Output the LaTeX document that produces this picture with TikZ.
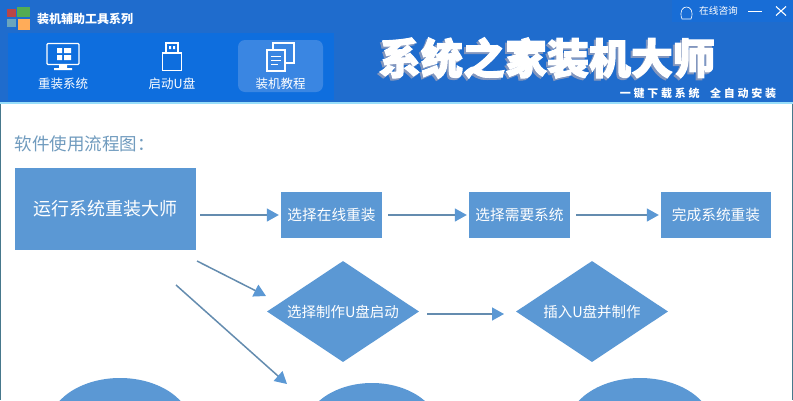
\documentclass[tikz,border=0pt]{standalone}
\usepackage{fontspec}
\setmainfont{Noto Sans CJK SC}
\newfontfamily\heavyf[BoldFeatures={FakeBold=2.5}]{Noto Sans CJK SC}
\newfontfamily\subf[LetterSpace=25]{Noto Sans CJK SC}
\usetikzlibrary{shapes.geometric,arrows.meta}
\definecolor{hdr}{RGB}{31,108,205}
\definecolor{tab}{RGB}{14,110,222}
\definecolor{tabr}{RGB}{24,109,214}
\definecolor{tabsel}{RGB}{58,134,226}
\definecolor{boxc}{RGB}{91,152,212}
\definecolor{linec}{RGB}{100,140,175}
\definecolor{ttl}{RGB}{112,155,190}
\definecolor{edge}{RGB}{70,120,140}
\definecolor{shade}{RGB}{130,150,190}
\tikzset{
 x=1pt,y=-1pt,
 flowbox/.style={fill=boxc,text=white,inner sep=0pt,font=\fontsize{14.7}{14.7}\selectfont},
 flowdia/.style={fill=boxc,text=white,diamond,aspect=1.5,inner sep=0pt,font=\fontsize{14.5}{14.5}\selectfont},
 flowarr/.style={draw=linec,line width=1.5pt,shorten >=2pt,-{Triangle[length=12pt,width=13pt,color=boxc]}},
 tablabel/.style={text=white,font=\fontsize{12.5}{12.5}\selectfont,inner sep=0pt},
 icon/.style={draw=white,line width=1.1pt},
 shadowt/.style={text=shade,font=\heavyf\fontsize{42}{42}\selectfont\bfseries,inner sep=0pt},
 titlet/.style={text=white,font=\heavyf\fontsize{42}{42}\selectfont\bfseries,inner sep=0pt},
}
\begin{document}
\begin{tikzpicture}
\useasboundingbox (0,0) rectangle (793,400);
\fill[white] (0,0) rectangle (793,400);
\fill[hdr] (0,0) rectangle (793,103);
\fill[tabr] (672,0) rectangle (793,22);
\fill[tab] (8,33) rectangle (334,100);
\fill[tabsel,rounded corners=7pt] (238,40) rectangle (323,92);
\fill[cyan!40!white] (0,102) rectangle (793,104);
\fill[edge] (0,104) rectangle (1,400);
\fill[edge] (792,104) rectangle (793,400);
% logo
\fill[red!45!gray] (7,9) rectangle (16,17);
\fill[green!35!gray] (17,7) rectangle (30,17);
\fill[cyan!45!gray] (7,19) rectangle (16,27);
\fill[orange!65!white] (18,19) rectangle (30,30);
\node[text=white,font=\fontsize{12}{12}\selectfont\bfseries,inner sep=0pt] (brand) at (85,19) {装机辅助工具系列};
% icons
\draw[icon,rounded corners=1pt] (47,43.5) rectangle (79,64.5);
\fill[white] (57,48) rectangle (62,53) (64,48) rectangle (71,53) (57,55) rectangle (62,60) (64,55) rectangle (71,60);
\fill[white] (59,65) rectangle (67,68) (54,68) rectangle (72,70);
\draw[icon] (166,43) rectangle (178,53);
\fill[white] (169,46) rectangle (171,49) (173,46) rectangle (175,49);
\draw[icon] (162.5,53) rectangle (181.5,70.5);
\draw[icon] (273,49) -- (273,43) -- (294,43) -- (294,63) -- (285,63);
\fill[tabsel] (267,50) rectangle (285,71);
\draw[icon] (267,50) rectangle (285,71);
\draw[white,line width=1pt] (271,56) -- (281,56) (271,60) -- (281,60) (271,64) -- (278,64);
\node[tablabel] (t1) at (63,84) {重装系统};
\node[tablabel] (t2) at (172,84) {启动U盘};
\node[tablabel] (t3) at (280.5,84) {装机教程};
% top right
\draw[white,line width=.6pt] (682,19) .. controls (676,3) and (697,3) .. (691,19) -- cycle;
\node[text=white,font=\fontsize{9.7}{9.7}\selectfont,inner sep=0pt] (qq) at (718.5,11) {在线咨询};
\draw[white,line width=1pt] (748,11) -- (762,11);
\draw[white,line width=1.1pt] (776,6.5) -- (786,15.5) (786,6.5) -- (776,15.5);
% big title
\node[shadowt] (big2) at (545,60) {系统之家装机大师};
\node[titlet] (big) at (547,58) {系统之家装机大师};
\node[text=white,font=\subf\fontsize{11}{11}\selectfont\bfseries,inner sep=0pt] (sub) at (698,93) {一键下载系统\ \ 全自动安装};
% flow
\node[text=ttl,font=\fontsize{17.5}{17.5}\selectfont,inner sep=0pt] (head) at (85,144) {软件使用流程图：};
\node[flowbox,minimum width=181pt,minimum height=82pt,font=\fontsize{18}{18}\selectfont] (a) at (105.5,209) {运行系统重装大师};
\node[flowbox,minimum width=101pt,minimum height=46pt] (b) at (331.5,215) {\raisebox{-2pt}{选择在线重装}};
\node[flowbox,minimum width=101pt,minimum height=46pt] (c) at (519.5,215) {\raisebox{-2pt}{选择需要系统}};
\node[flowbox,minimum width=110pt,minimum height=46pt] (d) at (716,215) {\raisebox{-2pt}{完成系统重装}};
\node[flowdia,minimum width=152pt,minimum height=101pt] (e) at (343,311.5) {选择制作U盘启动};
\node[flowdia,minimum width=152pt,minimum height=101pt] (f) at (592,311.5) {插入U盘并制作};
\node[fill=boxc,ellipse,minimum width=144pt,minimum height=100pt,inner sep=0pt] (g) at (120,428) {};
\node[fill=boxc,ellipse,minimum width=138pt,minimum height=100pt,inner sep=0pt] (h) at (372,433) {};
\node[fill=boxc,ellipse,minimum width=146pt,minimum height=100pt,inner sep=0pt] (i) at (640,428) {};
\coordinate (a1) at (200,215);
\coordinate (a2) at (197,261);
\coordinate (a3) at (176,285);
\coordinate (e1) at (266,296);
\coordinate (g1) at (287,384);
\coordinate (b1) at (388,215);
\coordinate (c1) at (576,215);
\coordinate (e2) at (427,314);
\coordinate (f1) at (504,314);
\draw[flowarr] (a1) -- (b);
\draw[flowarr] (b1) -- (c);
\draw[flowarr] (c1) -- (d);
\draw[flowarr,shorten >=0pt] (a2) -- (e1);
\draw[flowarr,shorten >=0pt] (a3) -- (g1);
\draw[flowarr,shorten >=0pt] (e2) -- (f1);
\end{tikzpicture}
\end{document}
